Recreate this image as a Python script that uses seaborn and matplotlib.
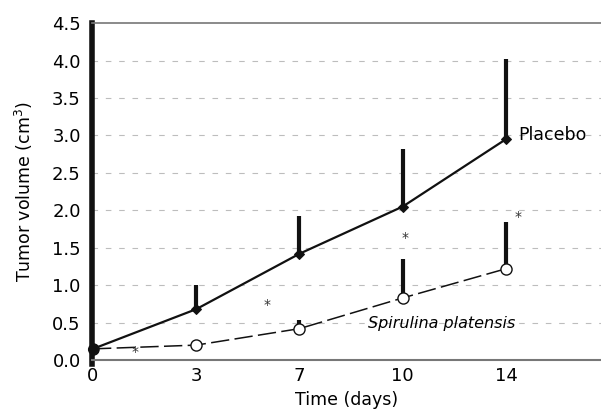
import matplotlib
matplotlib.use("Agg")
import matplotlib.pyplot as plt
import seaborn as sns
import numpy as np
import pandas as pd

days = ["0", "3", "7", "10", "14"]
placebo_mean = [0.15, 0.68, 1.42, 2.05, 2.95]
placebo_upper = [0.15, 1.00, 1.93, 2.82, 4.02]
spirulina_mean = [0.15, 0.20, 0.42, 0.83, 1.22]
spirulina_upper = [0.15, 0.20, 0.53, 1.35, 1.85]
star_x = [0.41, 1.69, 3.02, 4.12]
star_y = [0.11, 0.74, 1.63, 1.91]
yticks = [0.0, 0.5, 1.0, 1.5, 2.0, 2.5, 3.0, 3.5, 4.0, 4.5]

sns.set_theme(style="white")
plt.rcParams['font.family'] = ['DejaVu Sans']
plt.rcParams['text.color'] = 'black'
plt.rcParams['axes.labelcolor'] = 'black'
plt.rcParams['xtick.color'] = 'black'
plt.rcParams['ytick.color'] = 'black'

pos = np.arange(len(days))
df = pd.DataFrame({
    "pos": np.concatenate([pos, pos]),
    "vol": placebo_mean + spirulina_mean,
    "group": ["Placebo"] * len(days) + ["Spirulina"] * len(days),
})

fig = plt.figure(figsize=(6.01, 4.12), dpi=100)
ax = fig.add_axes([0.153, 0.126, 0.847, 0.818])

for y in yticks[1:-1]:
    ax.axhline(y, color="#bdbdbd", lw=0.8, ls=(0, (5, 7)), zorder=0)

# error bars (upper only)
ax.vlines(pos[1:], placebo_mean[1:], placebo_upper[1:], color="#111111", lw=3, zorder=2)
ax.vlines(pos[2:], spirulina_mean[2:], spirulina_upper[2:], color="#111111", lw=3, zorder=2)

sns.lineplot(data=df[df.group == "Placebo"], x="pos", y="vol", ax=ax,
             color="#111111", lw=1.6, marker="D", markersize=5,
             markerfacecolor="#111111", markeredgecolor="#111111", zorder=3)
sns.lineplot(data=df[df.group == "Spirulina"], x="pos", y="vol", ax=ax,
             color="#111111", lw=1.1, marker="o", markersize=8,
             markerfacecolor="white", markeredgecolor="#111111",
             markeredgewidth=1.0, dashes=False, zorder=3)
ax.lines[-1].set_linestyle((0, (12, 3.5)))
ax.plot([pos[0]], [placebo_mean[0]], marker="o", ms=7, color="#111111", zorder=4, clip_on=False)

for sx, sy in zip(star_x, star_y):
    ax.text(sx, sy, "*", ha="center", va="center", fontsize=10, color="#333333")

ax.text(4.12, placebo_mean[-1] + 0.05, "Placebo", ha="left", va="center", fontsize=12.5)
ax.text(2.66, 0.49, "Spirulina platensis", ha="left", va="center", fontsize=11.5, style="italic")

ax.set_xlim(-0.01, 4.92)
ax.set_ylim(0, 4.5)
ax.set_xticks(pos, days)
ax.set_yticks(yticks, [f"{v:.1f}" for v in yticks])
ax.tick_params(axis="x", length=3, width=2.5, color="#111111", labelsize=13, pad=2)
ax.tick_params(axis="y", length=0, labelsize=13, pad=8)
ax.set_xlabel("Time (days)", fontsize=12.5, labelpad=4)
ax.set_ylabel("Tumor volume (cm$^3$)", fontsize=12.5, labelpad=12)

ax.spines["right"].set_visible(False)
ax.spines["top"].set_color("#777777")
ax.spines["top"].set_linewidth(1.2)
ax.spines["bottom"].set_color("#777777")
ax.spines["bottom"].set_linewidth(1.5)
ax.spines["left"].set_color("#111111")
ax.spines["left"].set_linewidth(4)
ax.spines["left"].set_bounds(-0.05, 4.5)

fig.savefig("out.png", dpi=100)
